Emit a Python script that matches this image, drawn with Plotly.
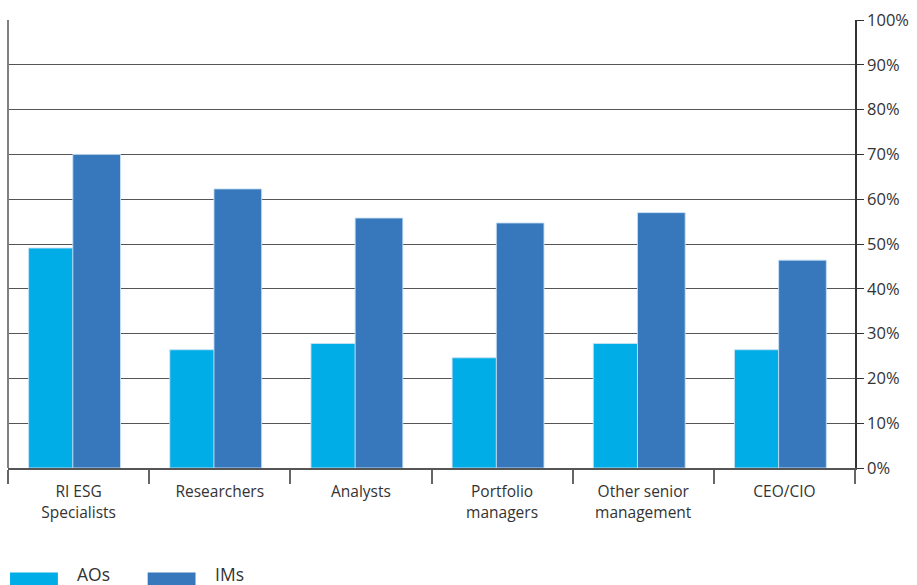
import plotly.graph_objects as go

categories = ["RI ESG<br>Specialists", "Researchers", "Analysts", "Portfolio<br>managers",
              "Other senior<br>management", "CEO/CIO"]
series_names = ["AOs", "IMs"]
aos = [49.1, 26.4, 27.8, 24.6, 27.8, 26.4]
ims = [70.0, 62.3, 55.8, 54.7, 57.0, 46.4]
tick_vals = [0, 10, 20, 30, 40, 50, 60, 70, 80, 90, 100]
tick_text = [f"{v}%" for v in tick_vals]

colors = ["#00ADE6", "#3777BC"]
bar_widths = [0.315, 0.338]
bar_offsets = [-0.354, -0.041]
font_family = "Open Sans, Noto Sans, sans-serif"

fig = go.Figure()
for name, vals, col, w, off in zip(series_names, [aos, ims], colors, bar_widths, bar_offsets):
    fig.add_trace(go.Bar(
        x=categories, y=vals, name=name,
        width=w, offset=off,
        marker=dict(color=col, line=dict(color="rgba(200,225,245,0.9)", width=1)),
        showlegend=False,
        hovertemplate="%{x}: %{y}%<extra>" + name + "</extra>",
    ))

# left frame line (grey, as in reference)
fig.add_shape(type="line", xref="paper", yref="paper", x0=0, x1=0, y0=0, y1=1,
              line=dict(color="#808080", width=2))

# custom legend (wide swatches as in reference)
legend_x = [0.0024, 0.1649]
for i, (name, col) in enumerate(zip(series_names, colors)):
    x0 = legend_x[i]
    fig.add_shape(type="rect", xref="paper", yref="paper",
                  x0=x0, x1=x0 + 0.0565, y0=-0.2333, y1=-0.29,
                  fillcolor=col, line=dict(width=0))
    fig.add_annotation(xref="paper", yref="paper", x=x0 + 0.077, y=-0.236,
                       text=name, showarrow=False, xanchor="left", yanchor="middle",
                       font=dict(size=17.5, color="#333333", family=font_family))

fig.update_layout(
    width=917, height=585,
    margin=dict(l=8, r=60, t=18, b=117),
    paper_bgcolor="white", plot_bgcolor="white",
    barmode="group",
    font=dict(family=font_family, color="#333333"),
    xaxis=dict(
        showline=True, linecolor="#555555", linewidth=1.5,
        ticks="outside", tickson="boundaries", ticklen=14, tickwidth=1.5,
        tickcolor="#666666", ticklabelstandoff=9,
        tickfont=dict(size=15.5, color="#333333"),
        showgrid=False,
    ),
    yaxis=dict(
        side="right", range=[0, 100], tickvals=tick_vals, ticktext=tick_text,
        showline=True, linecolor="#333333", linewidth=1.5,
        ticks="outside", ticklen=7, tickwidth=1.2, tickcolor="#333333",
        tickfont=dict(size=16.5, color="#333333"),
        showgrid=True, gridcolor="#555555", gridwidth=1.3,
        zeroline=False,
    ),
)

fig.write_html("out.html", config={"displayModeBar": False},
               post_script="document.body.style.margin='0';")
